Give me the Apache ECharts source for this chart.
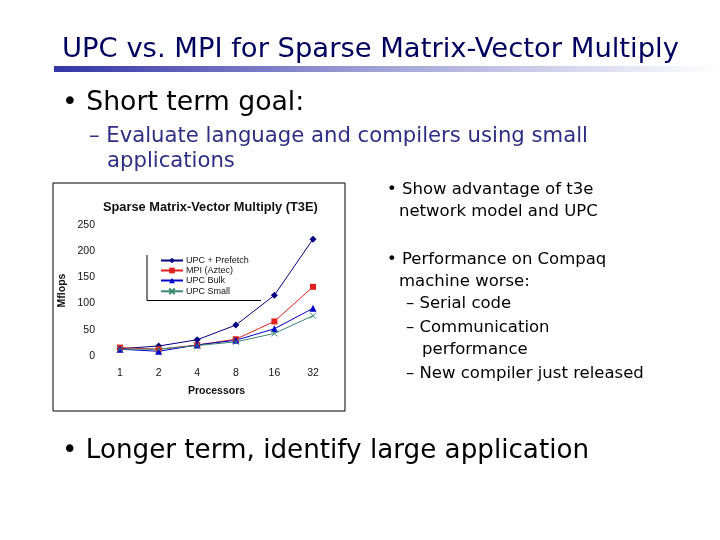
<!DOCTYPE html>
<html>
<head>
<meta charset="utf-8">
<script src="https://cdn.jsdelivr.net/npm/echarts@6/dist/echarts.min.js"></script>
<style>
html,body{margin:0;padding:0;background:#fff;}
#c{width:720px;height:540px;}
</style>
</head>
<body>
<div id="c"></div>
<script>
// ---- data ----
var processors = ['1', '2', '4', '8', '16', '32'];
var upcPrefetch = [14, 19, 31, 59, 116, 223];
var mpiAztec = [16, 13, 21, 32, 66, 132];
var upcBulk = [13, 9, 21, 30, 52, 91];
var upcSmall = [13, 13, 20, 27, 43, 77];
var seriesNames = ['UPC + Prefetch', 'MPI (Aztec)', 'UPC Bulk', 'UPC Small'];

var slideFont = '"DejaVu Sans", sans-serif';
var chartFont = '"Liberation Sans", Arial, sans-serif';

// c = vertical centre of capital letters
function txt(x, c, s, size, color) {
  return {
    type: 'text', left: x, top: c - size * 0.44, silent: true,
    style: { text: s, fontSize: size, fill: color, fontFamily: slideFont }
  };
}

var chart = echarts.init(document.getElementById('c'), null, { renderer: 'canvas' });

var xSym = 'path://M0,0L10,10M10,0L0,10';

var option = {
  backgroundColor: '#ffffff',
  animation: false,
  title: {
    text: 'Sparse Matrix-Vector Multiply (T3E)',
    left: 98, top: 196,
    textStyle: { fontFamily: chartFont, fontSize: 12.8, fontWeight: 'bold', color: '#111' }
  },
  legend: {
    orient: 'vertical', left: 160, top: 256, padding: 0,
    itemWidth: 22, itemHeight: 7, itemGap: 1,
    data: seriesNames,
    textStyle: { fontFamily: chartFont, fontSize: 9, color: '#111', lineHeight: 9, padding: [0, 0, 0, -2] }
  },
  grid: { left: 120, top: 225, width: 193, height: 131 },
  xAxis: {
    type: 'category', data: processors, boundaryGap: false,
    name: 'Processors', nameLocation: 'middle', nameGap: 30,
    nameTextStyle: { fontFamily: chartFont, fontSize: 10.5, fontWeight: 'bold', color: '#111' },
    axisLine: { show: false }, axisTick: { show: false }, splitLine: { show: false },
    axisLabel: { fontFamily: chartFont, fontSize: 10.5, color: '#111', margin: 12 }
  },
  yAxis: {
    type: 'value', min: 0, max: 250, interval: 50,
    name: 'Mflops', nameLocation: 'middle', nameGap: 52, nameRotate: 90,
    nameTextStyle: { fontFamily: chartFont, fontSize: 10.5, fontWeight: 'bold', color: '#111' },
    axisLine: { show: false }, axisTick: { show: false }, splitLine: { show: false },
    axisLabel: { fontFamily: chartFont, fontSize: 10.5, color: '#111', margin: 25 }
  },
  series: [
    { name: seriesNames[0], type: 'line', data: upcPrefetch, symbol: 'diamond', symbolSize: 7,
      lineStyle: { color: '#000080', width: 1 }, itemStyle: { color: '#000080' } },
    { name: seriesNames[1], type: 'line', data: mpiAztec, symbol: 'rect', symbolSize: 6,
      lineStyle: { color: '#e0201c', width: 1 }, itemStyle: { color: '#e0201c' } },
    { name: seriesNames[2], type: 'line', data: upcBulk, symbol: 'triangle', symbolSize: 7,
      lineStyle: { color: '#0000c8', width: 1 }, itemStyle: { color: '#0000c8' } },
    { name: seriesNames[3], type: 'line', data: upcSmall, symbol: xSym, symbolSize: 6,
      lineStyle: { color: '#3a8a6e', width: 1 },
      itemStyle: { color: 'none', borderColor: '#3a8a6e', borderWidth: 1 } }
  ],
  graphic: [
    { type: 'rect', shape: { x: 54, y: 66, width: 666, height: 6 }, silent: true,
      style: { fill: new echarts.graphic.LinearGradient(0, 0, 1, 0, [
        { offset: 0, color: '#3434a6' }, { offset: 0.45, color: '#9a9ad4' }, { offset: 1, color: '#ffffff' }]) } },
    { type: 'rect', shape: { x: 53, y: 183, width: 292, height: 228 }, silent: true, z: -1,
      style: { fill: 'none', stroke: '#000', lineWidth: 1 } },
    { type: 'polyline', shape: { points: [[147, 255], [147, 300.5], [261, 300.5]] }, silent: true,
      style: { fill: 'none', stroke: '#000', lineWidth: 1 } },
    txt(62, 48, 'UPC vs. MPI for Sparse Matrix-Vector Multiply', 27.4, '#00005e'),
    txt(62, 101, '\u2022 Short term goal:', 26.7, '#000'),
    txt(89, 135.5, '\u2013 Evaluate language and compilers using small', 21.2, '#2e2e84'),
    txt(107, 160, 'applications', 21.2, '#2e2e84'),
    txt(387, 188, '\u2022 Show advantage of t3e', 16.5, '#000'),
    txt(399, 210, 'network model and UPC', 16.5, '#000'),
    txt(387, 258, '\u2022 Performance on Compaq', 16.5, '#000'),
    txt(399, 280, 'machine worse:', 16.5, '#000'),
    txt(406, 302, '\u2013 Serial code', 16.5, '#000'),
    txt(406, 326, '\u2013 Communication', 16.5, '#000'),
    txt(422, 348, 'performance', 16.5, '#000'),
    txt(406, 372, '\u2013 New compiler just released', 16.5, '#000'),
    txt(62, 450, '\u2022 Longer term, identify large application', 26.2, '#000')
  ]
};
chart.setOption(option);
</script>
</body>
</html>
